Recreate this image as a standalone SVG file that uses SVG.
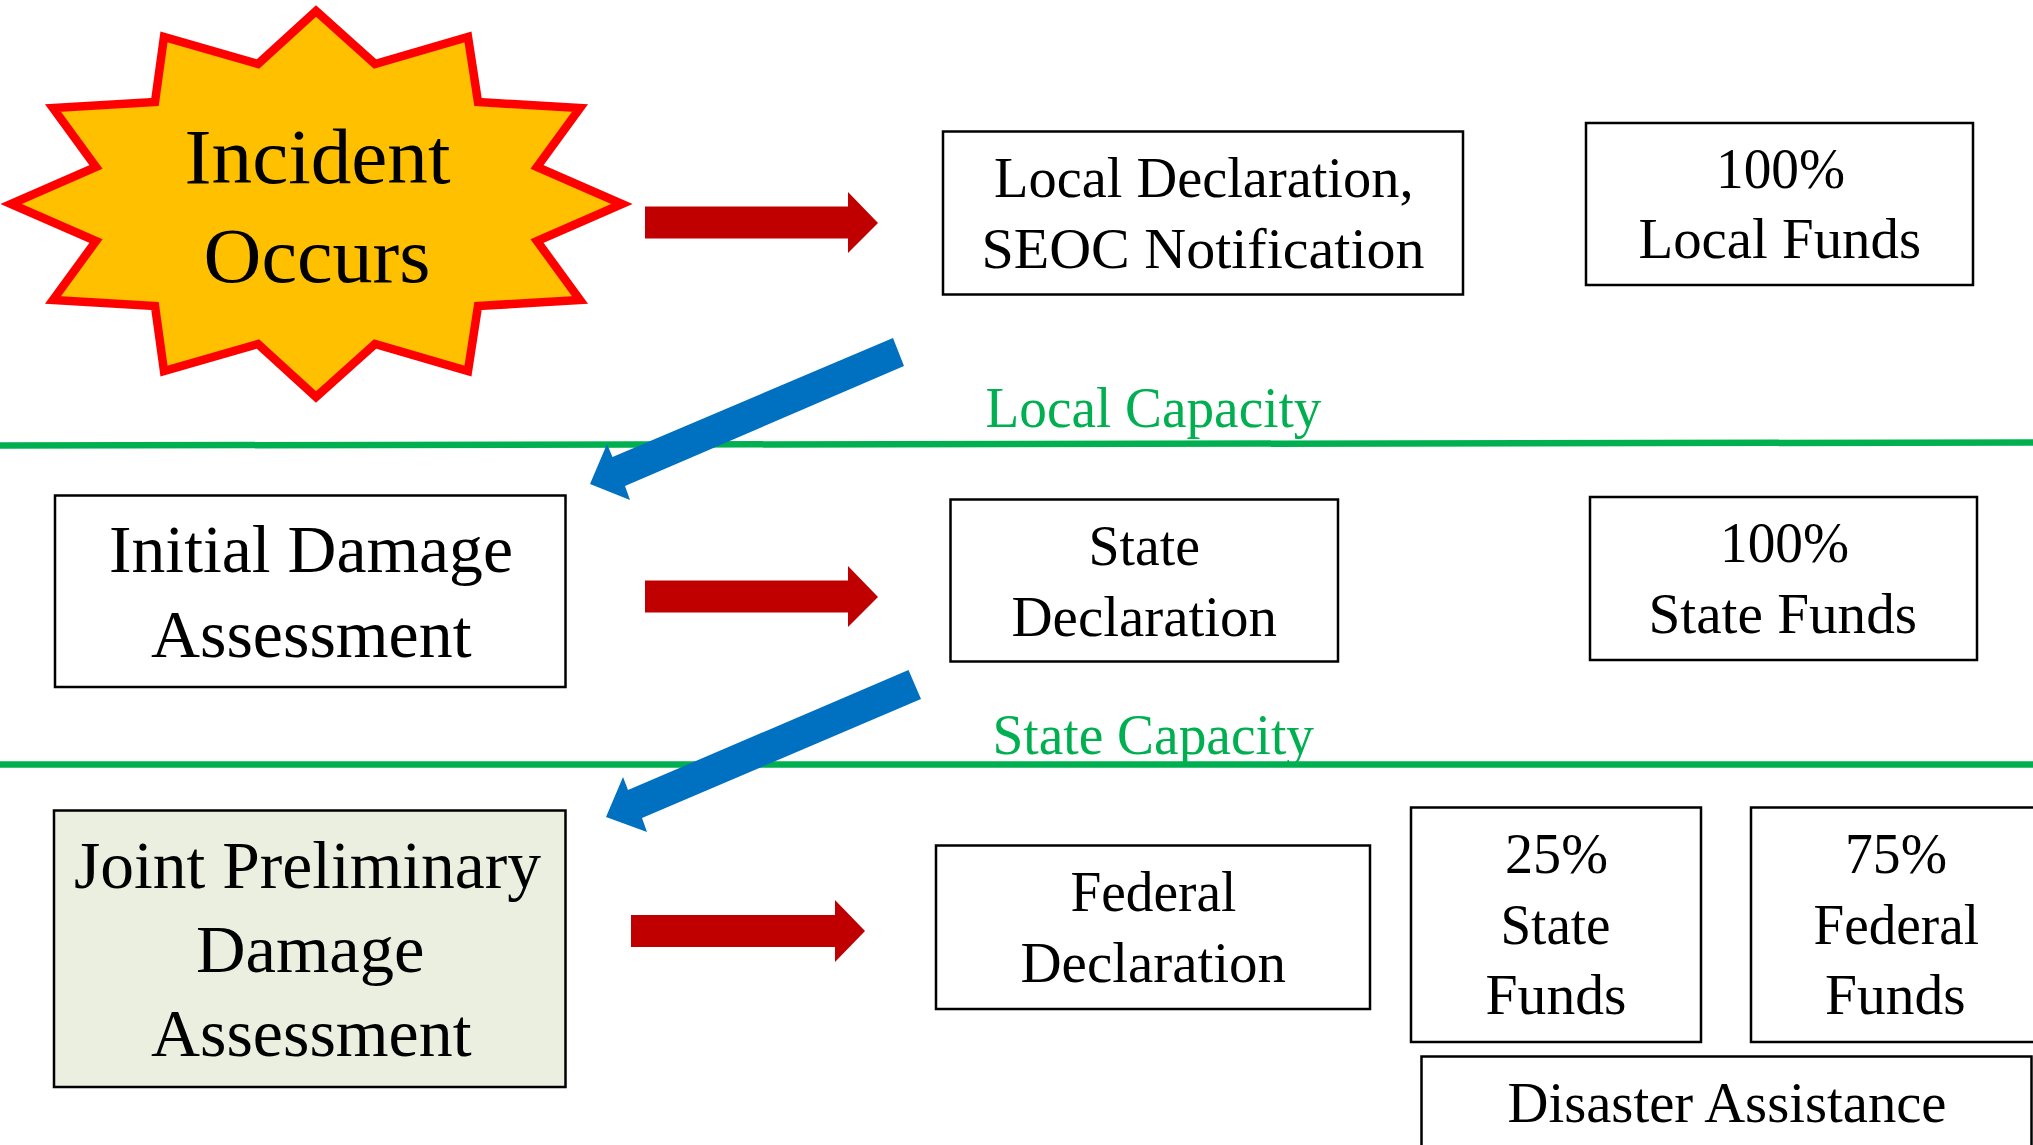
<svg xmlns="http://www.w3.org/2000/svg" width="2033" height="1145" viewBox="0 0 2033 1145">
<style>
text{font-family:"Liberation Serif","Times New Roman",serif;fill:#000}
.m text{font-size:56px}
.l text{font-size:68px}
.box{fill:#fff;stroke:#000;stroke-width:2.5}
.red{fill:#C00000}
.blue{fill:#0070C0}
.cap{stroke:#00B050;stroke-width:6.5;fill:none}
.capt{font-size:56px;fill:#00B050}
</style>
<rect width="2033" height="1145" fill="#fff"/>
<g id="capacity-lines">
<path class="cap" d="M0 445.500L2033 442.500"/>
<path class="cap" d="M0 764.500H2033"/>
</g>
<g id="connectors">
<path class="red" d="M645 206.500H848V192L878 223L848 253V238.500H645Z"/>
<path class="red" d="M645 580.500H848V566L878 597L848 627V612.500H645Z"/>
<path class="red" d="M631 915H835V900L865 931L835 962V947H631Z"/>
<path class="blue" d="M893 338L904 366L625 486L630 500L590 484L607 444L612.500 457Z"/>
<path class="blue" d="M908.500 670L921 699L642 818L647 832L606 817L623 777L628 790Z"/>
</g>
<g id="incident">
<path d="M316 11L375 64L468 37L478 102L580 108L537 167L622 204L537 241L580 300L478 306L468 371L375 344L316 397L258 344L164 371L155 306L53 300L96 241L11 204L96 167L53 108L155 102L164 37L258 64Z" fill="#FFC000" stroke="#FF0000" stroke-width="8.500"/>
<text x="184.500" y="183" font-size="78" textLength="266" lengthAdjust="spacingAndGlyphs">Incident</text>
<text x="203.500" y="281.500" font-size="78" textLength="227" lengthAdjust="spacingAndGlyphs">Occurs</text>
</g>
<g id="local-declaration" class="m">
<rect class="box" x="943" y="131.500" width="520" height="163"/>
<text x="994" y="197" textLength="419.500" lengthAdjust="spacingAndGlyphs">Local Declaration,</text>
<text x="981.500" y="268" textLength="443" lengthAdjust="spacingAndGlyphs">SEOC Notification</text>
</g>
<g id="local-funds" class="m">
<rect class="box" x="1586" y="123" width="387" height="162"/>
<text x="1716" y="187.500" textLength="129" lengthAdjust="spacingAndGlyphs">100%</text>
<text x="1638.500" y="257.500" textLength="282.500" lengthAdjust="spacingAndGlyphs">Local Funds</text>
</g>
<g id="initial-damage" class="l">
<rect class="box" x="55" y="495.500" width="510.500" height="191.500"/>
<text x="109" y="572" textLength="404" lengthAdjust="spacingAndGlyphs">Initial Damage</text>
<text x="151" y="657" textLength="320.500" lengthAdjust="spacingAndGlyphs">Assessment</text>
</g>
<g id="state-declaration" class="m">
<rect class="box" x="950.500" y="499.500" width="387.500" height="162"/>
<text x="1088.500" y="565" textLength="111.500" lengthAdjust="spacingAndGlyphs">State</text>
<text x="1011.500" y="635.500" textLength="265.500" lengthAdjust="spacingAndGlyphs">Declaration</text>
</g>
<g id="state-funds" class="m">
<rect class="box" x="1590" y="497" width="387" height="163"/>
<text x="1720" y="562" textLength="129" lengthAdjust="spacingAndGlyphs">100%</text>
<text x="1648.500" y="632.500" textLength="268.500" lengthAdjust="spacingAndGlyphs">State Funds</text>
</g>
<g id="joint-assessment" class="l">
<rect class="box" x="54" y="810.500" width="511.500" height="276.500" style="fill:#EBEFDF"/>
<text x="74" y="888" textLength="467" lengthAdjust="spacingAndGlyphs">Joint Preliminary</text>
<text x="196" y="972" textLength="228.500" lengthAdjust="spacingAndGlyphs">Damage</text>
<text x="151" y="1056" textLength="320.500" lengthAdjust="spacingAndGlyphs">Assessment</text>
</g>
<g id="federal-declaration" class="m">
<rect class="box" x="936" y="845.500" width="434" height="163.500"/>
<text x="1070.500" y="911" textLength="166" lengthAdjust="spacingAndGlyphs">Federal</text>
<text x="1020.500" y="982" textLength="265.500" lengthAdjust="spacingAndGlyphs">Declaration</text>
</g>
<g id="state-share" class="m">
<rect class="box" x="1411" y="807.500" width="290" height="234.500"/>
<text x="1505" y="873" textLength="103" lengthAdjust="spacingAndGlyphs">25%</text>
<text x="1500.500" y="943.500" textLength="110" lengthAdjust="spacingAndGlyphs">State</text>
<text x="1485.500" y="1014" textLength="141" lengthAdjust="spacingAndGlyphs">Funds</text>
</g>
<g id="federal-share" class="m">
<rect class="box" x="1751" y="807.500" width="295" height="234.500"/>
<text x="1845" y="873" textLength="102" lengthAdjust="spacingAndGlyphs">75%</text>
<text x="1813.500" y="943.500" textLength="165.500" lengthAdjust="spacingAndGlyphs">Federal</text>
<text x="1825" y="1014" textLength="140.500" lengthAdjust="spacingAndGlyphs">Funds</text>
</g>
<g id="disaster-assistance" class="m">
<rect class="box" x="1421.500" y="1056.500" width="610" height="110"/>
<text x="1507.500" y="1122" textLength="439" lengthAdjust="spacingAndGlyphs">Disaster Assistance</text>
</g>
<g id="capacity-labels">
<text class="capt" x="985.500" y="426.500" textLength="336" lengthAdjust="spacingAndGlyphs">Local Capacity</text>
<text class="capt" x="992.500" y="754" textLength="321.500" lengthAdjust="spacingAndGlyphs">State Capacity</text>
</g>
</svg>
